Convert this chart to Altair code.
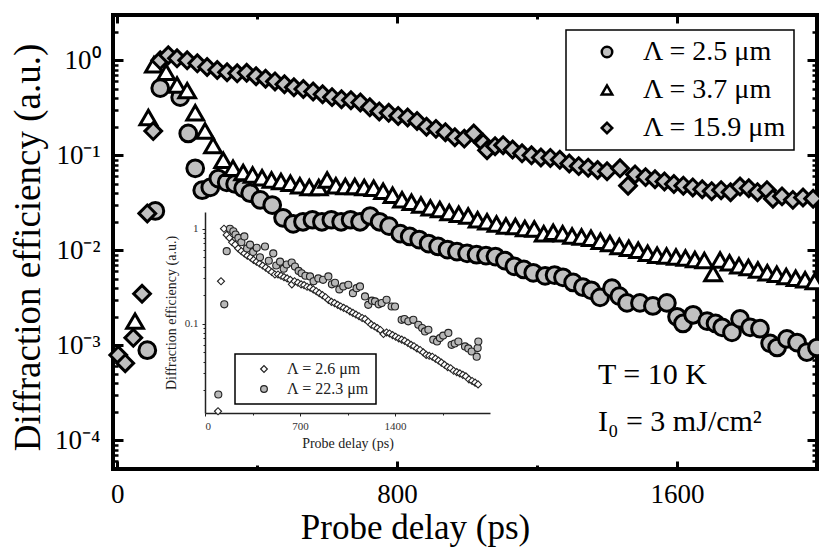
import altair as alt
import pandas as pd

# ---------------- main chart data ----------------
series_main = ["Λ = 2.5 μm", "Λ = 3.7 μm", "Λ = 15.9 μm"]

c_t = [86, 109, 123, 180, 203, 223, 243, 266, 289, 313, 337, 360, 380, 409, 443, 474, 503, 531, 558, 585,
       612, 640, 667, 694, 723, 750, 777, 809, 836, 863, 890, 917, 944, 971, 1000, 1027, 1054, 1081, 1108, 1135,
       1162, 1189, 1223, 1250, 1274, 1303, 1331, 1355, 1380, 1414, 1435, 1457, 1494, 1531, 1571, 1600, 1617, 1646,
       1686, 1710, 1729, 1757, 1780, 1809, 1837, 1866, 1886, 1914, 1943, 1971, 2000]
c_y = [0.00089, 0.026, 0.51, 0.41, 0.17, 0.073, 0.043, 0.046, 0.057, 0.052, 0.050, 0.045, 0.040, 0.034, 0.030,
       0.022, 0.019, 0.020, 0.021, 0.020, 0.021, 0.020, 0.021, 0.020, 0.023, 0.020, 0.018, 0.015, 0.014, 0.013,
       0.0118, 0.0110, 0.0102, 0.0097, 0.0093, 0.0090, 0.0088, 0.0086, 0.0078, 0.0068, 0.0063, 0.0058, 0.0054,
       0.0055, 0.0052, 0.0046, 0.0041, 0.0038, 0.0032, 0.0040, 0.0033, 0.0028, 0.0028, 0.0026, 0.0028, 0.0020,
       0.0017, 0.0021, 0.0018, 0.0017, 0.00155, 0.00137, 0.0019, 0.00155, 0.0015, 0.00105, 0.00095, 0.00117,
       0.00107, 0.00085, 0.00095]

tr_t = [51, 89, 105, 140, 171, 200, 223, 251, 274, 303, 331, 360, 387, 414, 441, 468, 495, 522, 549, 576,
        600, 625, 652, 679, 706, 733, 760, 787, 814, 841, 868, 895, 922, 949, 976, 1003, 1030, 1057, 1084, 1111,
        1138, 1165, 1192, 1219, 1246, 1273, 1300, 1327, 1354, 1381, 1408, 1435, 1462, 1489, 1516, 1543, 1570,
        1597, 1624, 1651, 1678, 1703, 1723, 1750, 1777, 1804, 1831, 1858, 1885, 1912, 1939, 1966, 1993]
tr_y = [0.0018, 0.25, 0.9, 0.75, 0.55, 0.48, 0.28, 0.18, 0.127, 0.089, 0.073, 0.066, 0.062, 0.058, 0.055,
        0.053, 0.051, 0.048, 0.046, 0.046, 0.055, 0.048, 0.047, 0.047, 0.046, 0.045, 0.042, 0.038, 0.034, 0.032,
        0.030, 0.028, 0.027, 0.025, 0.024, 0.023, 0.021, 0.020, 0.019, 0.018, 0.0178, 0.017, 0.0168, 0.0150,
        0.0155, 0.0150, 0.0142, 0.0138, 0.0134, 0.0125, 0.0118, 0.0110, 0.0105, 0.0100, 0.0093, 0.0089, 0.0087,
        0.0085, 0.0083, 0.0080, 0.0078, 0.0057, 0.0079, 0.0074, 0.0069, 0.0066, 0.0062, 0.0058, 0.0056, 0.0053,
        0.0051, 0.0049, 0.0047]

dm_t = [3, 23, 46, 71, 86, 103, 123, 146, 171, 200, 229, 257, 286, 314, 343, 370, 397, 424, 451, 478,
        505, 532, 560, 587, 614, 641, 668, 695, 722, 749, 776, 803, 830, 857, 884, 911, 938, 965, 992, 1019,
        1046, 1057, 1080, 1103, 1130, 1157, 1184, 1211, 1238, 1265, 1292, 1319, 1346, 1373, 1400, 1437, 1460,
        1480, 1510, 1537, 1564, 1591, 1618, 1645, 1672, 1699, 1726, 1753, 1780, 1805, 1830, 1857, 1874, 1900,
        1931, 1960, 1989]
dm_y = [0.00079, 0.00065, 0.0012, 0.0035, 0.0245, 0.18, 1.0, 1.13, 1.05, 1.0, 0.93, 0.85, 0.79, 0.75, 0.73,
        0.74, 0.68, 0.64, 0.60, 0.56, 0.52, 0.50, 0.47, 0.44, 0.41, 0.39, 0.38, 0.36, 0.32, 0.29, 0.28, 0.26,
        0.25, 0.23, 0.20, 0.19, 0.175, 0.155, 0.15, 0.17, 0.135, 0.113, 0.125, 0.128, 0.115, 0.105, 0.10, 0.095,
        0.094, 0.09, 0.082, 0.077, 0.074, 0.07, 0.068, 0.073, 0.048, 0.063, 0.059, 0.056, 0.053, 0.050, 0.048,
        0.046, 0.044, 0.042, 0.043, 0.041, 0.047, 0.045, 0.041, 0.043, 0.035, 0.037, 0.034, 0.036, 0.035]

# ---------------- inset data ----------------
series_inset = ["Λ = 2.6 μm", "Λ = 22.3 μm"]

id_t = [96, 118, 140, 160, 180, 200, 222, 245, 268, 290, 312, 335, 358, 380, 402, 425, 448, 470, 492, 515,
        538, 560, 582, 605, 628, 640, 660, 685, 708, 730, 752, 775, 798, 820, 842, 865, 888, 910, 932, 955,
        978, 1000, 1022, 1045, 1068, 1090, 1112, 1135, 1158, 1180, 1202, 1225, 1248, 1270, 1292, 1315, 1338,
        1360, 1382, 1405, 1428, 1450, 1472, 1495, 1518, 1540, 1562, 1585, 1608, 1630, 1652, 1675, 1698, 1720,
        1742, 1765, 1788, 1810, 1832, 1855, 1878, 1900, 1922, 1945, 1968, 1990, 2012]
id_y = [0.012, 0.28, 1.0, 0.86, 0.80, 0.72, 0.68, 0.62, 0.58, 0.55, 0.52, 0.50, 0.47, 0.45, 0.43, 0.41,
        0.39, 0.37, 0.35, 0.33, 0.33, 0.32, 0.31, 0.30, 0.29, 0.26, 0.28, 0.27, 0.26, 0.255, 0.245, 0.24, 0.23,
        0.22, 0.21, 0.20, 0.19, 0.178, 0.17, 0.165, 0.158, 0.152, 0.147, 0.142, 0.135, 0.13, 0.125, 0.12, 0.115,
        0.112, 0.105, 0.098, 0.094, 0.090, 0.086, 0.078, 0.081, 0.079, 0.076, 0.073, 0.070, 0.068, 0.066,
        0.063, 0.060, 0.058, 0.055, 0.053, 0.050, 0.047, 0.046, 0.045, 0.043, 0.041, 0.039, 0.037, 0.035,
        0.034, 0.032, 0.031, 0.030, 0.029, 0.028, 0.026, 0.025, 0.024, 0.023]

ic_t = [98, 142, 160, 184, 209, 225, 246, 268, 290, 310, 332, 355, 381, 405, 442, 470, 503, 525, 553, 580,
        602, 639, 663, 690, 712, 740, 774, 800, 835, 870, 909, 935, 958, 990, 1019, 1056, 1090, 1117, 1142,
        1179, 1203, 1230, 1253, 1280, 1302, 1338, 1375, 1400, 1449, 1470, 1498, 1535, 1572, 1600, 1621, 1646,
        1682, 1710, 1731, 1755, 1793, 1817, 1840, 1867, 1916, 1940, 1965, 2002, 2009, 2014]
ic_y = [0.018, 0.16, 0.58, 1.0, 0.94, 0.87, 0.80, 0.72, 0.83, 0.62, 0.68, 0.57, 0.63, 0.50, 0.65, 0.46,
        0.55, 0.41, 0.45, 0.38, 0.42, 0.44, 0.40, 0.36, 0.34, 0.32, 0.315, 0.28, 0.30, 0.29, 0.315, 0.26, 0.27,
        0.23, 0.247, 0.257, 0.21, 0.237, 0.247, 0.194, 0.158, 0.175, 0.172, 0.16, 0.165, 0.179, 0.152, 0.152,
        0.110, 0.112, 0.106, 0.110, 0.0976, 0.09, 0.083, 0.0865, 0.068, 0.065, 0.0706, 0.075, 0.080, 0.060,
        0.062, 0.065, 0.0577, 0.055, 0.051, 0.045, 0.0555, 0.065]

# ---------------- tables ----------------
main_df = pd.concat([
    pd.DataFrame({"t": c_t, "y": c_y, "series": series_main[0]}),
    pd.DataFrame({"t": tr_t, "y": tr_y, "series": series_main[1]}),
    pd.DataFrame({"t": dm_t, "y": dm_y, "series": series_main[2]}),
], ignore_index=True)

inset_df = pd.concat([
    pd.DataFrame({"t": id_t, "y": id_y, "series": series_inset[0]}),
    pd.DataFrame({"t": ic_t, "y": ic_y, "series": series_inset[1]}),
], ignore_index=True)

dummy = pd.DataFrame({"t": [1000], "y": [0.01]})

FONT = "Liberation Serif"

X_MAIN = alt.Scale(domain=[-12, 2000], nice=False, zero=False)
Y_MAIN = alt.Scale(type="log", domain=[5e-5, 3], nice=False)
X_IN = alt.Scale(domain=[0, 2100], range=[92, 377], nice=False, zero=False)
Y_IN = alt.Scale(type="log", domain=[0.0115, 1.5], range=[398, 197], nice=False)

x_major = [0, 800, 1600]
x_minor = [400, 1200, 2000]
y_major = [1e-4, 1e-3, 1e-2, 1e-1, 1]
y_minor = [m * 10.0 ** k for k in range(-5, 1) for m in range(2, 10) if 5e-5 <= m * 10.0 ** k <= 3]

yin_major = [0.1, 1]
yin_minor = [m * 10.0 ** k for k in range(-2, 1) for m in range(2, 10) if 0.0115 <= m * 10.0 ** k <= 1.5]
xin_major = [0, 700, 1400]
xin_minor = [350, 1050, 1750]

ylab_expr = ("datum.value >= 0.5 ? '10⁰' : datum.value >= 0.05 ? '10⁻¹' : "
             "datum.value >= 0.005 ? '10⁻²' : datum.value >= 0.0005 ? '10⁻³' : '10⁻⁴'")

main_legend = alt.Legend(
    title=None, orient="none", legendX=453, legendY=15, direction="vertical",
    strokeColor="black", fillColor="white", padding=8,
    labelFontSize=28, labelFont=FONT, labelColor="black",
    symbolSize=110, symbolStrokeWidth=2.5,
    symbolOffset=19, labelOffset=22, rowPadding=10,
)

main = alt.Chart(main_df).mark_point(
    filled=False, stroke="black", strokeWidth=3, opacity=1, fillOpacity=1, strokeOpacity=1, size=280
).encode(
    x=alt.X("t:Q", scale=X_MAIN, axis=alt.Axis(
        orient="bottom", values=x_major, format="d", domain=False, offset=-8, tickSize=8, tickWidth=3,
        labelFontSize=27, labelPadding=12, title="Probe delay (ps)", titleFontSize=35,
        titleX=302, titleY=66, titleBaseline="middle")),
    y=alt.Y("y:Q", scale=Y_MAIN, axis=alt.Axis(
        orient="left", values=y_major, labelExpr=ylab_expr, domain=False, offset=-10, tickSize=10,
        tickWidth=3, labelFontSize=27, labelPadding=13, title="Diffraction efficiency (a.u.)",
        titleFontSize=37, titleX=-95, titleY=232, titleBaseline="middle", titleAngle=270)),
    shape=alt.Shape("series:N", scale=alt.Scale(domain=series_main, range=["circle", "triangle-up", "diamond"]),
                    legend=main_legend),
    fill=alt.Fill("series:N", scale=alt.Scale(domain=series_main, range=["#c0c0c0", "white", "#c0c0c0"]),
                  legend=main_legend),
    stroke=alt.value("black"),
)


def ticks_layer(xaxis, yaxis):
    return alt.Chart(dummy).mark_point(opacity=0).encode(
        x=alt.X("t:Q", scale=X_MAIN, axis=xaxis),
        y=alt.Y("y:Q", scale=Y_MAIN, axis=yaxis),
    )


minor_bl = ticks_layer(
    alt.Axis(orient="bottom", values=x_minor, labels=False, domain=False, offset=-4, tickSize=4, tickWidth=3, title=None),
    alt.Axis(orient="left", values=y_minor, labels=False, domain=False, offset=-5, tickSize=5, tickWidth=2.5, title=None),
)
major_tr = ticks_layer(
    alt.Axis(orient="top", values=x_major, labels=False, domain=False, offset=-8, tickSize=8, tickWidth=3, title=None),
    alt.Axis(orient="right", values=y_major, labels=False, domain=False, offset=-10, tickSize=10, tickWidth=3, title=None),
)
minor_tr = ticks_layer(
    alt.Axis(orient="top", values=x_minor, labels=False, domain=False, offset=-4, tickSize=4, tickWidth=3, title=None),
    alt.Axis(orient="right", values=y_minor, labels=False, domain=False, offset=-5, tickSize=5, tickWidth=2.5, title=None),
)

inset_legend = alt.Legend(
    title=None, orient="none", legendX=122, legendY=339, direction="vertical",
    strokeColor="black", fillColor="white", padding=7,
    labelFontSize=16, labelFont=FONT, labelColor="#222",
    symbolSize=45, symbolStrokeWidth=1.2,
    symbolOffset=14, labelOffset=15, rowPadding=4,
)

inset = alt.Chart(inset_df).mark_point(
    filled=False, stroke="#222", strokeWidth=1.1, opacity=1, fillOpacity=1, size=50
).encode(
    x=alt.X("t:Q", scale=X_IN, axis=alt.Axis(
        orient="bottom", values=xin_major, format="d", offset=-56, domain=True, domainColor="#222",
        domainWidth=1.5, tickSize=3, tickWidth=1, tickColor="#222", labelFontSize=11, labelColor="#333",
        labelPadding=4, title="Probe delay (ps)", titleFontSize=14, titleColor="#222", titlePadding=5)),
    y=alt.Y("y:Q", scale=Y_IN, axis=alt.Axis(
        orient="left", values=yin_major, labelExpr="datum.value >= 0.5 ? '1' : '0.1'", offset=-92,
        domain=True, domainColor="#222", domainWidth=1.5, tickSize=3, tickWidth=1, tickColor="#222",
        labelFontSize=11, labelColor="#333", labelPadding=4, title="Diffraction efficiency (a.u.)",
        titleFontSize=14, titleColor="#222", titlePadding=6)),
    shape=alt.Shape("series:N", scale=alt.Scale(domain=series_inset, range=["diamond", "circle"]),
                    legend=inset_legend),
    fill=alt.Fill("series:N", scale=alt.Scale(domain=series_inset, range=["white", "#b8b8b8"]),
                  legend=inset_legend),
    stroke=alt.value("#222"),
)

inset_minor = alt.Chart(dummy).mark_point(opacity=0).encode(
    x=alt.X("t:Q", scale=X_IN, axis=alt.Axis(
        orient="bottom", values=xin_minor, labels=False, domain=False, offset=-56, tickSize=2,
        tickWidth=1, tickColor="#222", title=None)),
    y=alt.Y("y:Q", scale=Y_IN, axis=alt.Axis(
        orient="left", values=yin_minor, labels=False, domain=False, offset=-92, tickSize=2,
        tickWidth=1, tickColor="#222", title=None)),
)

ann_df = pd.DataFrame({"a": [0]})
ann_T = alt.Chart(ann_df).mark_text(
    text="T = 10 K", font=FONT, fontSize=30, align="left", baseline="middle", color="black"
).encode(x=alt.value(485), y=alt.value(360))
ann_I = alt.Chart(ann_df).mark_text(
    text="I₀ = 3 mJ/cm²", font=FONT, fontSize=30, align="left", baseline="middle", color="black"
).encode(x=alt.value(485), y=alt.value(407))

chart = alt.layer(
    inset_minor, inset, main, minor_bl, major_tr, minor_tr, ann_T, ann_I
).resolve_scale(
    x="independent", y="independent", shape="independent", fill="independent"
).resolve_legend(
    shape="independent", fill="independent"
).properties(
    width=704, height=454,
    autosize=alt.AutoSizeParams(type="none"),
    padding={"left": 113, "top": 15, "right": 2, "bottom": 80},
).configure(
    font=FONT
).configure_view(
    stroke="black", strokeWidth=4
).configure_axis(
    grid=False, labelColor="black", titleColor="black", tickColor="black",
    labelFont=FONT, titleFont=FONT, titleFontWeight="normal"
).configure_legend(
    strokeWidth=1.5
)

chart.save("out.html", embed_options={"renderer": "svg", "actions": False})
